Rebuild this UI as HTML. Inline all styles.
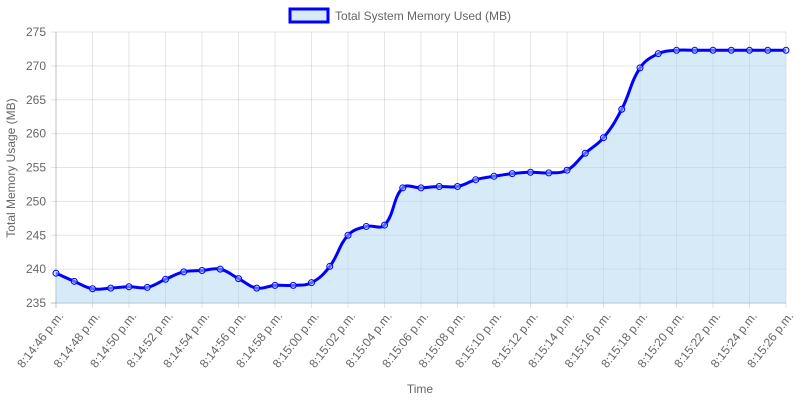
<!DOCTYPE html>
<html><head><meta charset="utf-8"><style>
html,body{margin:0;padding:0;background:#fff;}
svg{display:block;font-family:"Liberation Sans",Arial,sans-serif;}
</style></head><body>
<svg id="c" width="800" height="400" xmlns="http://www.w3.org/2000/svg">
<rect x="290" y="9" width="38" height="13" fill="#d6eaf8" stroke="#0000ff" stroke-width="3"/>
<text x="335" y="20" font-size="12" fill="#666">Total System Memory Used (MB)</text>
<text x="420" y="393" font-size="12" fill="#666" text-anchor="middle">Time</text>
<text transform="translate(15,168) rotate(-90)" font-size="12" fill="#666" text-anchor="middle">Total Memory Usage (MB)</text>
<g id="grid"></g>
<path id="area" fill="rgba(174,214,241,0.5)" stroke="none"/>
<path id="line" fill="none" stroke="#0000ff" stroke-width="3"/>
<g id="pts"></g>
</svg>
<script>
var NS="http://www.w3.org/2000/svg";
function el(t,a,p,txt){var e=document.createElementNS(NS,t);for(var k in a)e.setAttribute(k,a[k]);if(txt)e.textContent=txt;p.appendChild(e);return e;}
var x0=56,x1=786,yT=32,yB=303;
var g=document.getElementById('grid');
for(var i=0;i<=8;i++){var v=235+i*5,y=yB-(v-235)/40*(yB-yT);
el('line',{x1:x0-5,x2:x1,y1:y,y2:y,stroke:i==0?'rgba(0,0,0,0.25)':'rgba(0,0,0,0.1)'},g);
el('text',{x:x0-10,y:y+4,'font-size':12,fill:'#666','text-anchor':'end'},g,String(v));}
el('line',{x1:x0,x2:x0,y1:yT,y2:yB+5,stroke:'rgba(0,0,0,0.25)'},g);
for(var i=0;i<=20;i++){var x=x0+i*(x1-x0)/20;
if(i>0)el('line',{x1:x,x2:x,y1:yT,y2:yB+5,stroke:'rgba(0,0,0,0.1)'},g);
var s=46+i*2,m=s>=60?15:14,ss=s%60;var lab='8:'+m+':'+(ss<10?'0':'')+ss+' p.m.';
el('text',{transform:'translate('+(x+8)+','+(yB+13)+') rotate(-52)','font-size':12,fill:'#666','text-anchor':'end'},g,lab);}
var d=[239.4,238.2,237.1,237.2,237.4,237.3,238.5,239.6,239.8,240.0,238.6,237.2,237.6,237.6,238.0,240.4,245.0,246.3,246.5,252.0,252.0,252.2,252.2,253.2,253.7,254.1,254.3,254.2,254.6,257.1,259.4,263.6,269.7,271.8,272.3,272.3,272.3,272.3,272.3,272.3,272.3];
var P=d.map(function(v,i){return [x0+i*(x1-x0)/40,yB-(v-235)/40*(yB-yT)];});
var t=0.4,path='M'+P[0][0]+','+P[0][1];
function cp(i){var p=P[i-1]||P[i],c=P[i],n=P[i+1]||P[i];
var d01=Math.hypot(c[0]-p[0],c[1]-p[1]),d12=Math.hypot(n[0]-c[0],n[1]-c[1]);
var fa=d01/(d01+d12||1)*t,fb=d12/(d01+d12||1)*t;
return [[c[0]-fa*(n[0]-p[0]),c[1]-fa*(n[1]-p[1])],[c[0]+fb*(n[0]-p[0]),c[1]+fb*(n[1]-p[1])]];}
var C=P.map(function(_,i){return cp(i);});
for(var i=1;i<P.length;i++){var a=C[i-1][1],b=C[i][0];
a=[a[0],Math.min(Math.max(a[1],yT),yB)];b=[b[0],Math.min(Math.max(b[1],yT),yB)];
path+=' C'+a[0]+','+a[1]+' '+b[0]+','+b[1]+' '+P[i][0]+','+P[i][1];}
document.getElementById('line').setAttribute('d',path);
document.getElementById('area').setAttribute('d',path+' L'+x1+','+yB+' L'+x0+','+yB+' Z');
var pg=document.getElementById('pts');
P.forEach(function(p){el('circle',{cx:p[0],cy:p[1],r:3,fill:'rgba(174,214,241,0.5)',stroke:'#0000ff','stroke-width':1},pg);});
</script>
</body></html>
